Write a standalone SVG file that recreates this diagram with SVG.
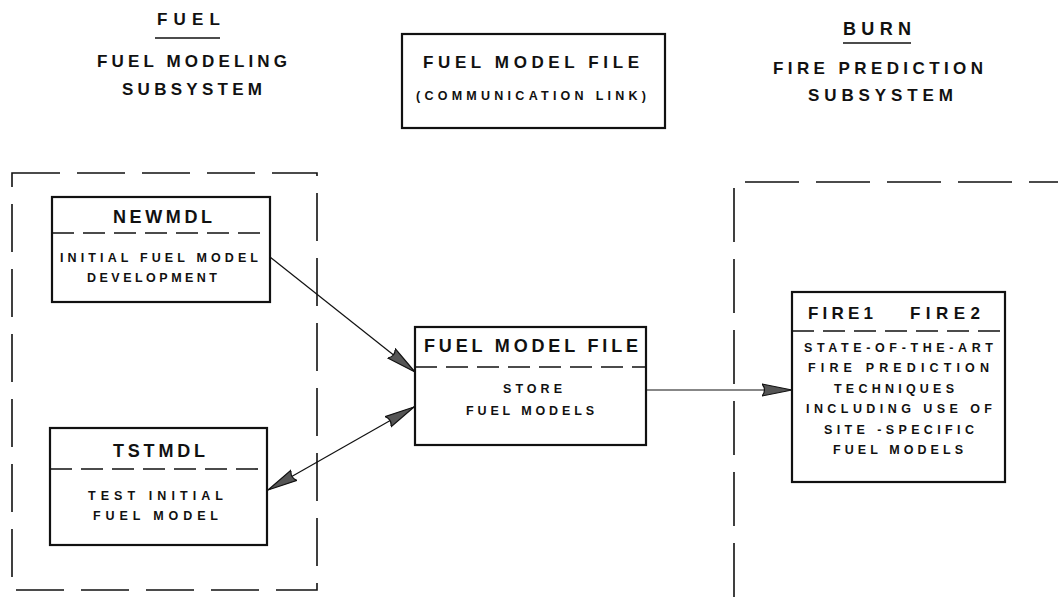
<svg xmlns="http://www.w3.org/2000/svg" width="1058" height="597" viewBox="0 0 1058 597">
<style>
text{font-family:"Liberation Sans",Arial,sans-serif;font-weight:bold;fill:#111;}
.t18{font-size:18px;}
.t17{font-size:17px;}
.t16{font-size:16px;}
.t12{font-size:12.5px;}
.t11{font-size:12.5px;}
.box{fill:none;stroke:#111;stroke-width:2.2;}
.div{fill:none;stroke:#111;stroke-width:1.6;stroke-dasharray:22 9;}
.grp{fill:none;stroke:#111;stroke-width:1.6;}
.conn{fill:none;stroke:#111;stroke-width:1.2;}
</style>
<defs>
<marker id="ah" markerUnits="userSpaceOnUse" markerWidth="34" markerHeight="16" refX="30" refY="7" orient="auto-start-reverse" viewBox="0 0 34 16">
<path d="M0,1 L30,7 L0,13 Q5,7 0,1 z" fill="#555" stroke="#111" stroke-width="1.2"/>
</marker>
</defs>
<rect width="1058" height="597" fill="#fff"/>

<g id="titles">
<text class="t17" x="157" y="25" textLength="63" lengthAdjust="spacing">FUEL</text>
<line x1="155" y1="38" x2="220" y2="38" stroke="#111" stroke-width="1.5"/>
<text class="t17" x="97" y="67" textLength="190" lengthAdjust="spacing">FUEL MODELING</text>
<text class="t17" x="122" y="95" textLength="140" lengthAdjust="spacing">SUBSYSTEM</text>
<text class="t18" x="843" y="35" textLength="68" lengthAdjust="spacing">BURN</text>
<line x1="843" y1="43" x2="911" y2="43" stroke="#111" stroke-width="1.5"/>
<text class="t17" x="773" y="74" textLength="210" lengthAdjust="spacing">FIRE PREDICTION</text>
<text class="t17" x="808" y="101" textLength="145" lengthAdjust="spacing">SUBSYSTEM</text>
</g>

<g id="comm-link">
<rect class="box" x="402" y="34" width="263" height="94"/>
<text class="t17" x="423" y="68" textLength="216" lengthAdjust="spacing">FUEL MODEL FILE</text>
<text class="t12" x="416" y="100" textLength="230" lengthAdjust="spacing">(COMMUNICATION LINK)</text>
</g>

<g id="fuel-subsystem">
<rect class="grp" x="12" y="173" width="305" height="417" stroke-dasharray="48 17"/>
</g>

<g id="burn-subsystem">
<path class="grp" d="M734,597 V182 H1058" stroke-dasharray="54 17"/>
</g>

<g id="newmdl">
<rect class="box" x="52" y="197" width="218" height="105"/>
<line class="div" x1="52" y1="233" x2="270" y2="233"/>
<text class="t18" x="113" y="223" textLength="99" lengthAdjust="spacing">NEWMDL</text>
<text class="t11" x="60" y="262" textLength="198" lengthAdjust="spacing">INITIAL FUEL MODEL</text>
<text class="t11" x="87" y="282" textLength="130" lengthAdjust="spacing">DEVELOPMENT</text>
</g>

<g id="tstmdl">
<rect class="box" x="50" y="428" width="217" height="117"/>
<line class="div" x1="50" y1="469" x2="267" y2="469"/>
<text class="t18" x="113" y="457" textLength="92" lengthAdjust="spacing">TSTMDL</text>
<text class="t11" x="88" y="500" textLength="135" lengthAdjust="spacing">TEST INITIAL</text>
<text class="t11" x="93" y="520" textLength="125" lengthAdjust="spacing">FUEL MODEL</text>
</g>

<g id="fuel-model-file">
<rect class="box" x="415" y="327" width="231" height="118"/>
<line class="div" x1="415" y1="367" x2="646" y2="367"/>
<text class="t18" x="424" y="352" textLength="214" lengthAdjust="spacing">FUEL MODEL FILE</text>
<text class="t11" x="503" y="393" textLength="59" lengthAdjust="spacing">STORE</text>
<text class="t11" x="466" y="415" textLength="128" lengthAdjust="spacing">FUEL MODELS</text>
</g>

<g id="fire">
<rect class="box" x="792" y="292" width="213" height="190"/>
<line class="div" x1="792" y1="331" x2="1005" y2="331"/>
<text class="t17" x="808" y="319" textLength="65" lengthAdjust="spacing">FIRE1</text>
<text class="t17" x="910" y="319" textLength="70" lengthAdjust="spacing">FIRE2</text>
<text class="t11" x="804" y="352" textLength="189" lengthAdjust="spacing">STATE-OF-THE-ART</text>
<text class="t11" x="808" y="372" textLength="181" lengthAdjust="spacing">FIRE PREDICTION</text>
<text class="t11" x="834" y="393" textLength="120" lengthAdjust="spacing">TECHNIQUES</text>
<text class="t11" x="806" y="413" textLength="186" lengthAdjust="spacing">INCLUDING USE OF</text>
<text class="t11" x="824" y="434" textLength="150" lengthAdjust="spacing">SITE -SPECIFIC</text>
<text class="t11" x="833" y="454" textLength="130" lengthAdjust="spacing">FUEL MODELS</text>
</g>

<g id="connectors">
<path class="conn" d="M270,257 L415,372" marker-end="url(#ah)"/>
<path class="conn" d="M268,490 L414,407" marker-start="url(#ah)" marker-end="url(#ah)"/>
<path class="conn" d="M646,390 L792,390" marker-end="url(#ah)"/>
</g>
</svg>
